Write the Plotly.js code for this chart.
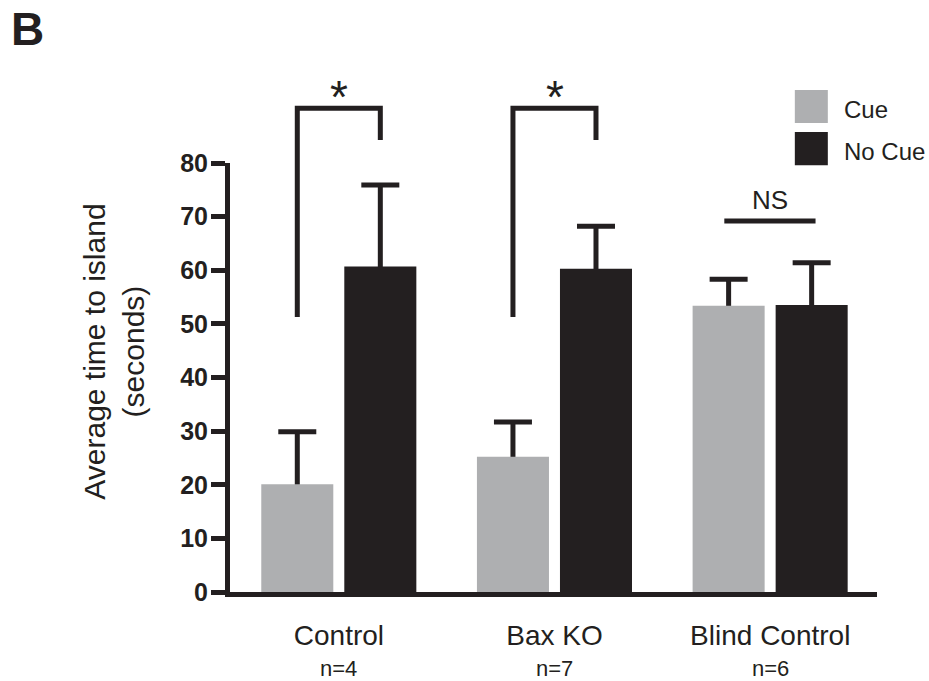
<!DOCTYPE html>
<html>
<head>
<meta charset="utf-8">
<script src="https://cdn.plot.ly/plotly-3.0.1.min.js"></script>
<style>
html,body{margin:0;padding:0;background:#fff;}
#chart{width:929px;height:681px;}
</style>
</head>
<body>
<div id="chart"></div>
<script>
// ---- data ----
var groupPos = [0, 1, 2];
var groupNames = ["Control", "Bax KO", "Blind Control"];
var groupN = ["n=4", "n=7", "n=6"];
var cueValues = [20.1, 25.2, 53.4];
var cueErrors = [9.8, 6.5, 4.9];
var noCueValues = [60.7, 60.3, 53.5];
var noCueErrors = [15.2, 7.9, 7.9];
var yTicks = [0, 10, 20, 30, 40, 50, 60, 70, 80];
var seriesNames = ["Cue", "No Cue"];

// ---- style ----
var DARK = "#231f20";
var GRAY = "#aeafb1";
var FONT = "Liberation Sans, Arial, sans-serif";
var BAR_W = 0.334;
var CUE_OFFSET = -0.36, NOCUE_OFFSET = 0.025;

// error bars drawn first (transparent bars), their lower part hidden by the real bars
function errTrace(vals, errs, off) {
  return {
    type: "bar", x: groupPos, y: vals, width: BAR_W, offset: off,
    marker: {color: "rgba(0,0,0,0)", line: {width: 0}},
    error_y: {type: "data", symmetric: false, array: errs, arrayminus: vals,
              color: DARK, thickness: 5, width: 19},
    showlegend: false, hoverinfo: "skip"
  };
}
function barTrace(name, vals, off, color) {
  return {
    type: "bar", name: name, x: groupPos, y: vals, width: BAR_W, offset: off,
    marker: {color: color, line: {width: 0}},
    showlegend: false, hoverinfo: "skip"
  };
}
var traces = [
  errTrace(cueValues, cueErrors, CUE_OFFSET),
  errTrace(noCueValues, noCueErrors, NOCUE_OFFSET),
  barTrace(seriesNames[0], cueValues, CUE_OFFSET, GRAY),
  barTrace(seriesNames[1], noCueValues, NOCUE_OFFSET, DARK)
];

// helper: data-y to paper-y (range 0..80)
function py(v) { return v / 80; }
var cueOff = CUE_OFFSET + BAR_W / 2, noCueOff = NOCUE_OFFSET + BAR_W / 2;
var LW = 5;

var shapes = [];
// significance brackets for groups 0 and 1
[0, 1].forEach(function (g) {
  shapes.push({type: "path", xref: "x", yref: "paper",
    path: "M" + (g + cueOff) + "," + py(51.3) + " L" + (g + cueOff) + "," + py(90.2) +
          " L" + (g + noCueOff) + "," + py(90.2) + " L" + (g + noCueOff) + "," + py(84.3),
    line: {color: DARK, width: LW}, layer: "above"});
});
// NS line
shapes.push({type: "line", xref: "x", yref: "paper", x0: 1.787, x1: 2.21,
  y0: py(69.2), y1: py(69.2), line: {color: DARK, width: LW}});
// legend swatches
shapes.push({type: "rect", xref: "paper", yref: "paper", x0: 0.873, x1: 0.924,
  y0: 1.093, y1: 1.170, fillcolor: GRAY, line: {width: 0}});
shapes.push({type: "rect", xref: "paper", yref: "paper", x0: 0.873, x1: 0.924,
  y0: 0.995, y1: 1.072, fillcolor: DARK, line: {width: 0}});

var annotations = [
  {text: "*", xref: "x", yref: "paper", x: 0, y: py(92.4), showarrow: false,
   font: {family: FONT, size: 46, color: DARK}, xanchor: "center", yanchor: "middle"},
  {text: "*", xref: "x", yref: "paper", x: 1, y: py(92.4), showarrow: false,
   font: {family: FONT, size: 46, color: DARK}, xanchor: "center", yanchor: "middle"},
  {text: "NS", xref: "x", yref: "paper", x: 2, y: py(73.1), showarrow: false,
   font: {family: FONT, size: 26, color: DARK}, xanchor: "center", yanchor: "middle"},
  {text: seriesNames[0], xref: "paper", yref: "paper", x: 0.946, y: 1.1255, showarrow: false,
   font: {family: FONT, size: 24, color: DARK}, xanchor: "left", yanchor: "middle"},
  {text: seriesNames[1], xref: "paper", yref: "paper", x: 0.946, y: 1.0276, showarrow: false,
   font: {family: FONT, size: 24, color: DARK}, xanchor: "left", yanchor: "middle"},
  {text: "Average time to island<br>(seconds)", xref: "paper", yref: "paper",
   x: -0.1785, y: 0.559, textangle: -90, showarrow: false,
   font: {family: FONT, size: 30, color: DARK}, xanchor: "center", yanchor: "middle"},
  {text: "<b>B</b>", xref: "paper", yref: "paper", x: -0.341, y: 1.3135, showarrow: false,
   font: {family: FONT, size: 46, color: DARK}, xanchor: "left", yanchor: "middle"}
];
groupN.forEach(function (n, i) {
  annotations.push({text: n, xref: "x", yref: "paper", x: groupPos[i], y: -0.179,
    showarrow: false, font: {family: FONT, size: 22, color: DARK},
    xanchor: "center", yanchor: "middle"});
});

var layout = {
  width: 929, height: 681,
  margin: {l: 230, r: 52, t: 163, b: 89, pad: 0},
  paper_bgcolor: "#fff", plot_bgcolor: "#fff",
  barmode: "overlay",
  showlegend: false,
  xaxis: {
    range: [-0.505, 2.495], tickvals: groupPos, ticktext: groupNames,
    showline: true, linecolor: DARK, linewidth: 5, ticks: "",
    showgrid: false, zeroline: false, ticklabelstandoff: 14,
    tickfont: {family: FONT, size: 28, color: DARK}
  },
  yaxis: {
    range: [0, 80], tickvals: yTicks,
    showline: true, linecolor: DARK, linewidth: 5,
    ticks: "outside", ticklen: 14, tickwidth: 5, tickcolor: DARK,
    showgrid: false, zeroline: false, ticklabelstandoff: -2,
    tickfont: {family: FONT, size: 25, color: DARK, weight: "bold"}
  },
  shapes: shapes,
  annotations: annotations
};

Plotly.newPlot("chart", traces, layout, {displayModeBar: false, staticPlot: true});
</script>
</body>
</html>
